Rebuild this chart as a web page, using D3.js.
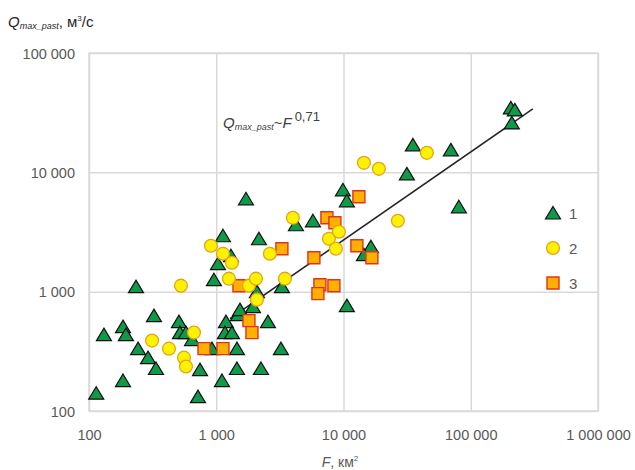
<!DOCTYPE html>
<html><head><meta charset="utf-8">
<script src="https://cdn.jsdelivr.net/npm/d3@7"></script>
<style>
body{margin:0;background:#fff;}
text{font-family:"Liberation Sans",Arial,sans-serif;}
</style></head>
<body><svg id="c" width="635" height="470"></svg>
<script>
// ---- data ----
const xTicks = [100, 1000, 10000, 100000, 1000000];
const yTicks = [100, 1000, 10000, 100000];
const legendLabels = ["1", "2", "3"];

// series 1 (triangles)
const s1F = [114,131,185,195,185,234,243,291,336,324,509,519,578,645,718,745,925,959,1031,1129,1305,1109,1192,1170,1328,1454,1454,2245,3222,1481,1536,1943,2547,2088,1712,2165,3281,4227,5750,9892,10630,10630,16420,14470,31480,35090,69780,80630,206500,222000,210300];
const s1Q = [141,437,509,437,180,1101,333,280,227,630,561,454,454,397,132,222,333,1260,1715,2942,2001,180,561,454,454,333,227,227,333,642,707,749,561,1000,6000,2777,1101,3637,3927,7139,5775,764,2380,2040,9714,16990,15430,5144,34650,33340,25960];
// series 2 (circles)
const s2F = [528,668,313,425,558,578,908,1129,1328,1258,1807,2051,2088,2641,4003,3465,7680,9203,8717,14470,18970,26750,45200];
const s2Q = [1122,454,389,333,280,236,2426,2080,1748,1285,1122,1285,857,2080,4160,1285,2777,3178,2290,12010,10700,3927,14560];
// series 3 (squares)
const s3F = [801,1129,1508,1807,1908,3281,5855,6525,6294,8407,7406,8560,13210,12740,16720];
const s3Q = [333,333,1122,572,454,2290,1925,1144,962,1122,4160,3779,6237,2426,1925];
// trend line Q ~ F^0.71
const trendF = [1281, 307400];
const trendQ = [594, 33970];

// ---- chart ----
const svg = d3.select("#c");
const L = 89, R = 598, T = 53, B = 411;
const x = d3.scaleLog().domain([100, 1000000]).range([L, R]);
const y = d3.scaleLog().domain([100, 100000]).range([B, T]);
const loc = d3.formatLocale({decimal: ",", thousands: " ", grouping: [3], currency: ["", ""]});
const fmt = loc.format(",d");
const grid = "#d9d9d9", txt = "#595959";

// gridlines
svg.append("g").attr("transform", `translate(0,${B})`)
  .call(d3.axisBottom(x).tickValues(xTicks).tickSize(-(B - T)).tickFormat(""))
  .call(g => g.select(".domain").remove())
  .call(g => g.selectAll("line").attr("stroke", grid).attr("stroke-width", 1.5));
svg.append("g").attr("transform", `translate(${L},0)`)
  .call(d3.axisLeft(y).tickValues(yTicks).tickSize(-(R - L)).tickFormat(""))
  .call(g => g.select(".domain").remove())
  .call(g => g.selectAll("line").attr("stroke", grid).attr("stroke-width", 1.5));
svg.append("rect").attr("x", L).attr("y", T).attr("width", R - L).attr("height", B - T)
  .attr("fill", "none").attr("stroke", grid).attr("stroke-width", 1.5);

// tick labels
svg.append("g").attr("transform", `translate(0,${B + 26})`)
  .call(d3.axisBottom(x).tickValues(xTicks).tickSize(0).tickFormat(fmt))
  .call(g => g.select(".domain").remove())
  .call(g => g.selectAll("text").attr("fill", txt).attr("font-size", 14.5).attr("dy", "0")
    .attr("font-family", '"Liberation Sans",Arial,sans-serif'));
svg.append("g").attr("transform", `translate(${L - 11},0)`)
  .call(d3.axisLeft(y).tickValues(yTicks).tickSize(0).tickFormat(fmt))
  .call(g => g.select(".domain").remove())
  .call(g => g.selectAll("text").attr("fill", txt).attr("font-size", 14.5).attr("dy", "0.35em")
    .attr("font-family", '"Liberation Sans",Arial,sans-serif'));

// axis titles
const xt = svg.append("text").attr("x", 340).attr("y", 467).attr("text-anchor", "middle")
  .attr("fill", txt).attr("font-size", 14);
xt.append("tspan").attr("font-style", "italic").text("F");
xt.append("tspan").text(", км");
xt.append("tspan").attr("font-size", 8).attr("dy", -6).text("2");

const yt = svg.append("text").attr("x", 8).attr("y", 27).attr("fill", "#262626").attr("font-size", 15);
yt.append("tspan").attr("font-style", "italic").text("Q");
yt.append("tspan").attr("font-style", "italic").attr("font-size", 9).attr("dy", 2).text("max_past");
yt.append("tspan").attr("dy", -2).text(", м");
yt.append("tspan").attr("font-size", 8).attr("dy", -6).text("3");
yt.append("tspan").attr("dy", 6).text("/с");

// trend line
svg.append("path")
  .attr("d", d3.line().x(d => x(d[0])).y(d => y(d[1]))(d3.zip(trendF, trendQ)))
  .attr("stroke", "#262626").attr("stroke-width", 1.6).attr("fill", "none");

// formula label
const fl = svg.append("text").attr("x", 223).attr("y", 128).attr("fill", "#404040").attr("font-size", 15);
fl.append("tspan").attr("font-style", "italic").text("Q");
fl.append("tspan").attr("font-style", "italic").attr("font-size", 9).attr("dy", 2).text("max_past");
fl.append("tspan").attr("dy", -2).text("~");
fl.append("tspan").attr("font-style", "italic").text("F");
fl.append("tspan").attr("font-size", 13).attr("dy", -7).attr("dx", 3).text("0,71");

// markers
const triSym = {draw(ctx, s) { ctx.moveTo(0, -6.5); ctx.lineTo(7.5, 6); ctx.lineTo(-7.5, 6); ctx.closePath(); }};
const sqSym = {draw(ctx, s) { ctx.rect(-6, -6, 12, 12); }};
const styles = [
  {sym: triSym, fill: "#0f9a4a", stroke: "#111", sw: 1.2},
  {sym: d3.symbolCircle, size: 130, fill: "#fff200", stroke: "#e0a419", sw: 1.3},
  {sym: sqSym, fill: "#ffb000", stroke: "#e2321c", sw: 1.4}
];
function drawSeries(F, Q, st) {
  svg.append("g").selectAll("path").data(d3.zip(F, Q)).join("path")
    .attr("d", d3.symbol(st.sym, st.size || 64))
    .attr("transform", d => `translate(${x(d[0])},${y(d[1])})`)
    .attr("fill", st.fill).attr("stroke", st.stroke).attr("stroke-width", st.sw);
}
drawSeries(s1F, s1Q, styles[0]);
drawSeries(s3F, s3Q, styles[2]);
drawSeries(s2F, s2Q, styles[1]);

// legend
const lg = svg.append("g");
legendLabels.forEach((lab, i) => {
  const st = styles[i];
  const yy = 213 + i * 35;
  lg.append("path").attr("d", d3.symbol(st.sym, st.size || 64)).attr("transform", `translate(553,${yy})`)
    .attr("fill", st.fill).attr("stroke", st.stroke).attr("stroke-width", st.sw);
  lg.append("text").attr("x", 569).attr("y", yy).attr("dy", "0.38em").attr("fill", txt)
    .attr("font-size", 15).text(lab);
});
</script></body></html>
